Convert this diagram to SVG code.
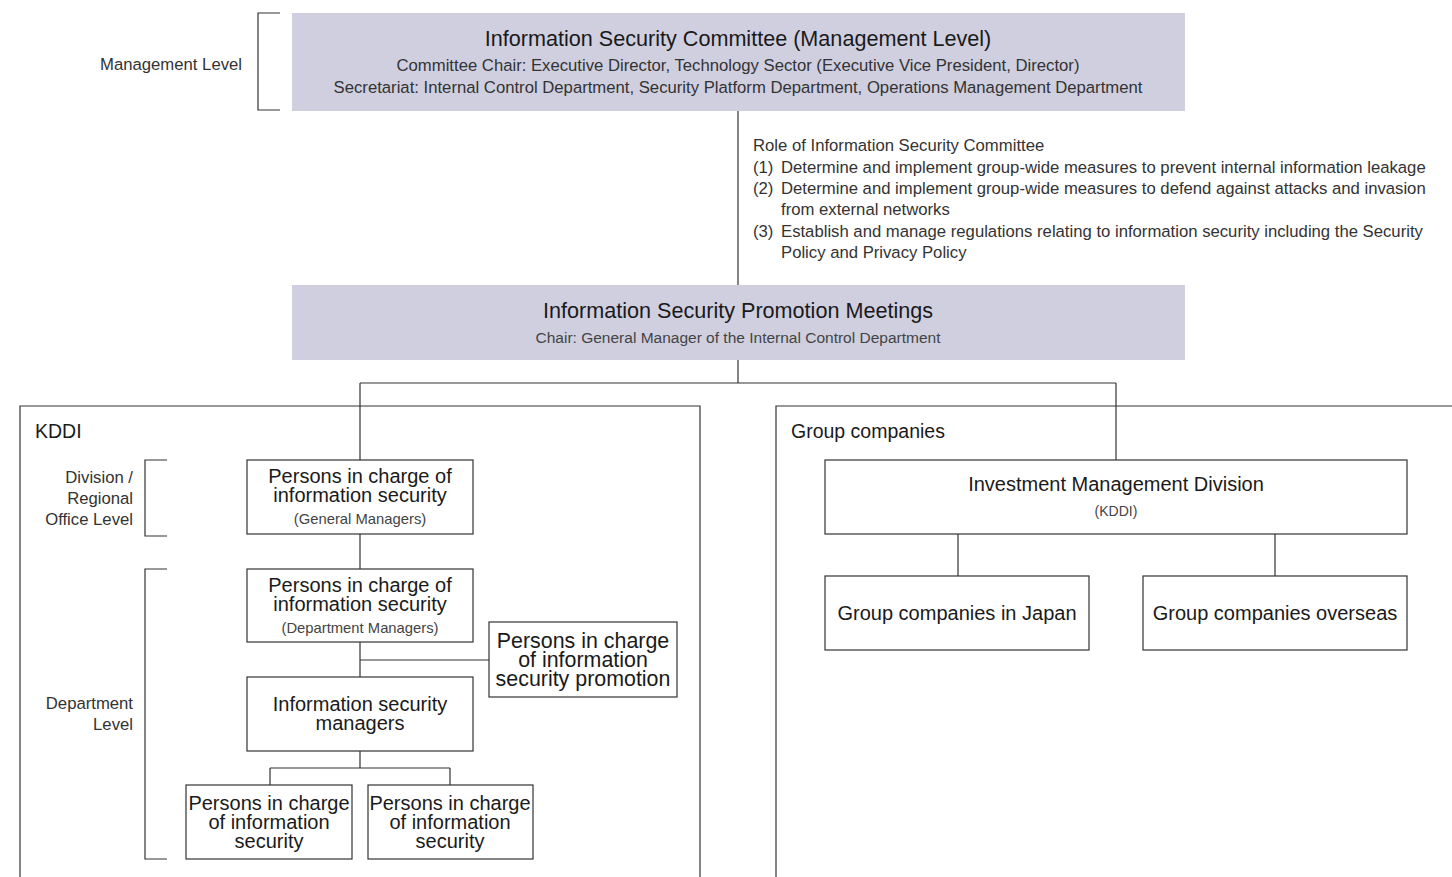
<svg xmlns="http://www.w3.org/2000/svg" width="1452" height="877" viewBox="0 0 1452 877">
<style>
text{font-family:"Liberation Sans",Arial,sans-serif;fill:#1a1a1a}
.hd{fill:#cfcfe0}
.box{fill:#fff;stroke:#333;stroke-width:1.2}
.ln{fill:none;stroke:#333;stroke-width:1.2}
.t20{font-size:21.6px}
.t19{font-size:20px;text-anchor:middle}
.t16{font-size:16.7px;fill:#333}
.t14{font-size:14.8px;fill:#444;text-anchor:middle}
.lab{font-size:19.5px}
.c{text-anchor:middle}
.r{text-anchor:end}
</style>
<rect width="1452" height="877" fill="#fff"/>
<g id="containers">
<path class="ln" d="M20 877V406H700V877"/>
<path class="ln" d="M1452 406H776V877"/>
<text x="35" y="438" class="lab">KDDI</text>
<text x="791" y="438" class="lab">Group companies</text>
</g>
<g id="brackets">
<path class="ln" d="M280 13H258V110H280"/>
<text x="242" y="70" class="t16 r">Management Level</text>
<path class="ln" d="M167 460H145V536H167"/>
<text x="133" y="483" class="t16 r">Division /</text>
<text x="133" y="504" class="t16 r">Regional</text>
<text x="133" y="525" class="t16 r">Office Level</text>
<path class="ln" d="M167 569H145V859H167"/>
<text x="133" y="709" class="t16 r">Department</text>
<text x="133" y="730" class="t16 r">Level</text>
</g>
<g id="connectors">
<path class="ln" d="M738 111V285M738 360V383M360 383H1116M360 383V460M1116 383V460"/>
<path class="ln" d="M360 534V569M360 642V677M360 660H489M360 751V768M270 768H450M270 768V785M450 768V785"/>
<path class="ln" d="M958 534V576M1275 534V576"/>
</g>
<g id="committee">
<rect class="hd" x="292" y="13" width="893" height="98"/>
<text x="738" y="46" class="t20 c">Information Security Committee (Management Level)</text>
<text x="738" y="71" class="t16 c">Committee Chair: Executive Director, Technology Sector (Executive Vice President, Director)</text>
<text x="738" y="93" class="t16 c">Secretariat: Internal Control Department, Security Platform Department, Operations Management Department</text>
</g>
<g id="role">
<text x="753" y="151" class="t16">Role of Information Security Committee</text>
<text x="753" y="173" class="t16">(1)</text>
<text x="781" y="173" class="t16">Determine and implement group-wide measures to prevent internal information leakage</text>
<text x="753" y="194" class="t16">(2)</text>
<text x="781" y="194" class="t16">Determine and implement group-wide measures to defend against attacks and invasion</text>
<text x="781" y="215" class="t16">from external networks</text>
<text x="753" y="237" class="t16">(3)</text>
<text x="781" y="237" class="t16">Establish and manage regulations relating to information security including the Security</text>
<text x="781" y="258" class="t16">Policy and Privacy Policy</text>
</g>
<g id="promotion-meetings">
<rect class="hd" x="292" y="285" width="893" height="75"/>
<text x="738" y="318" class="t20 c">Information Security Promotion Meetings</text>
<text x="738" y="343" class="t14" style="font-size:15.5px">Chair: General Manager of the Internal Control Department</text>
</g>
<g id="gm">
<rect class="box" x="247" y="460" width="226" height="74"/>
<text x="360" y="483" class="t19">Persons in charge of</text>
<text x="360" y="502" class="t19">information security</text>
<text x="360" y="524" class="t14">(General Managers)</text>
</g>
<g id="dm">
<rect class="box" x="247" y="569" width="226" height="73"/>
<text x="360" y="592" class="t19">Persons in charge of</text>
<text x="360" y="611" class="t19">information security</text>
<text x="360" y="633" class="t14">(Department Managers)</text>
</g>
<g id="promotion">
<rect class="box" x="489" y="622" width="188" height="75"/>
<text x="583" y="648" class="t19" style="font-size:21.4px">Persons in charge</text>
<text x="583" y="667" class="t19" style="font-size:21.4px">of information</text>
<text x="583" y="686" class="t19" style="font-size:21.4px">security promotion</text>
</g>
<g id="managers">
<rect class="box" x="247" y="677" width="226" height="74"/>
<text x="360" y="711" class="t19">Information security</text>
<text x="360" y="730" class="t19">managers</text>
</g>
<g id="pic1">
<rect class="box" x="186" y="785" width="166" height="74"/>
<text x="269" y="810" class="t19">Persons in charge</text>
<text x="269" y="829" class="t19">of information</text>
<text x="269" y="848" class="t19">security</text>
</g>
<g id="pic2">
<rect class="box" x="368" y="785" width="165" height="74"/>
<text x="450" y="810" class="t19">Persons in charge</text>
<text x="450" y="829" class="t19">of information</text>
<text x="450" y="848" class="t19">security</text>
</g>
<g id="imd">
<rect class="box" x="825" y="460" width="582" height="74"/>
<text x="1116" y="491" class="t19">Investment Management Division</text>
<text x="1116" y="516" class="t14" style="font-size:14px">(KDDI)</text>
</g>
<g id="japan">
<rect class="box" x="825" y="576" width="264" height="74"/>
<text x="957" y="620" class="t19">Group companies in Japan</text>
</g>
<g id="overseas">
<rect class="box" x="1143" y="576" width="264" height="74"/>
<text x="1275" y="620" class="t19">Group companies overseas</text>
</g>
</svg>
